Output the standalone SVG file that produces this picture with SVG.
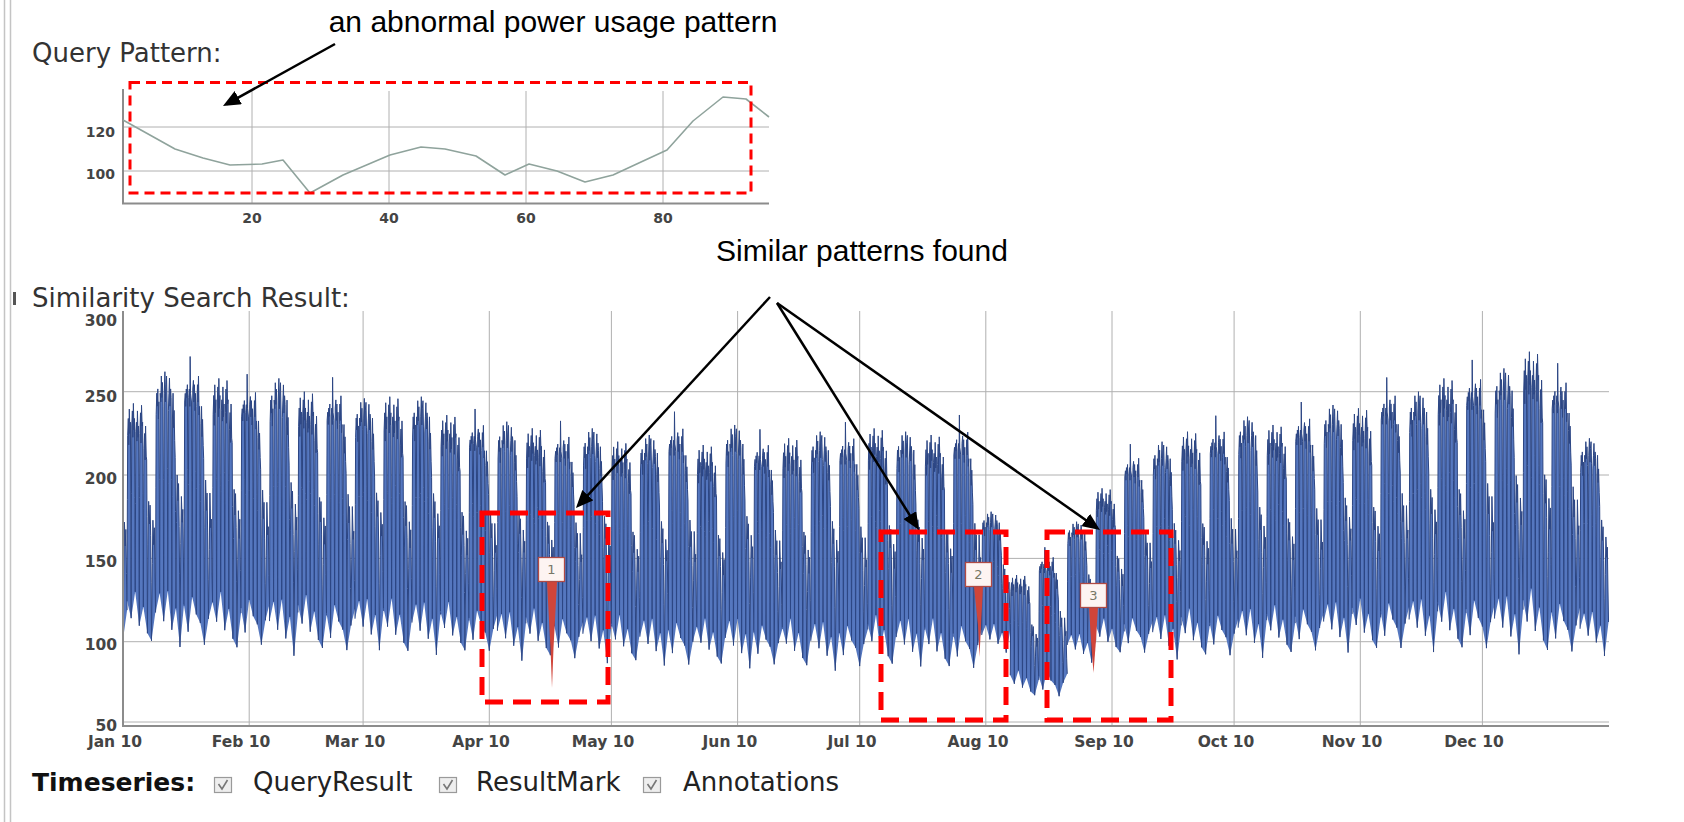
<svg xmlns="http://www.w3.org/2000/svg" xmlns:xlink="http://www.w3.org/1999/xlink" width="1684" height="822" viewBox="0 0 1684 822">
  <style>
    .hdr{font-family:"DejaVu Sans",Verdana,sans-serif;font-size:26px;fill:#333}
    .tick{font-family:"DejaVu Sans",Verdana,sans-serif;font-weight:bold;fill:#444}
    .tickS{font-size:14px}
    .tickL{font-size:15.5px}
    .note{font-family:"Liberation Sans",Arial,sans-serif;font-size:30px;fill:#000}
    .legend{font-family:"DejaVu Sans",Verdana,sans-serif;font-size:26px;fill:#222}
    .grid{stroke:#b0b0b0;stroke-width:1;fill:none}
    .axis{stroke:#8c8c8c;stroke-width:2;fill:none}
    .query{fill:none;stroke:#8fa39c;stroke-width:1.6;stroke-linejoin:round}
    .loadFill{fill:#5577bf;stroke:none}
    .loadLine{fill:none;stroke:#2c4684;stroke-width:1;vector-effect:non-scaling-stroke;stroke-linejoin:round}
    .boxTop{fill:none;stroke:#ff0000;stroke-width:3;stroke-dasharray:10 6}
    .boxBig{fill:none;stroke:#ff0000;stroke-width:5;stroke-dasharray:18 10}
    .arrow{fill:none;stroke:#000;stroke-width:2.5;marker-end:url(#head)}
    .flag{fill:#fdf4f2;stroke:#b04a44;stroke-width:1.3}
    .flagTxt{font-family:"DejaVu Sans",Verdana,sans-serif;font-size:13px;fill:#776;text-anchor:middle}
    .mark{fill:#d0453a}
    .cb{fill:#eeeeee;stroke:#9a9a9a;stroke-width:1.2}
    .tickmark{fill:none;stroke:#777;stroke-width:1.6}
  </style>
  <defs>
    <marker id="head" viewBox="0 0 10 10" refX="7.7" refY="5" markerWidth="7" markerHeight="6" preserveAspectRatio="none" orient="auto">
      <path d="M0,0 L10,5 L0,10 Z" fill="#000"/>
    </marker>
    <clipPath id="plotClip">
      <rect x="123" y="300" width="1486" height="430"/>
    </clipPath>
    <!-- one week of hourly load (Mon..Sun); x in days, y normalised: 0 = night trough, -1 = weekday peak.
         The fill shades each day between its two night troughs, the stroke path carries the full curve. -->
    <g id="wA">
      <path class="loadFill" d="M0,0.05 L0.08,-0.49 0.15,-0.83 0.3,-0.92 0.42,-0.78 0.55,-0.97 0.7,-0.84 0.82,-0.9 0.9,-0.53 1,0.14 Z M1,0.14 L1.08,-0.52 1.15,-0.88 1.3,-0.96 1.42,-0.82 1.55,-1 1.7,-0.86 1.82,-0.92 1.9,-0.5 2,0 Z M2,0 L2.08,-0.47 2.15,-0.85 2.3,-0.9 2.42,-0.8 2.55,-0.96 2.7,-0.82 2.82,-0.88 2.9,-0.56 3,0.18 Z M3,0.18 L3.08,-0.5 3.15,-0.84 3.3,-0.95 3.42,-0.79 3.55,-0.99 3.7,-0.88 3.82,-0.9 3.9,-0.52 4,0.08 Z M4,0.08 L4.08,-0.44 4.15,-0.76 4.3,-0.84 4.42,-0.7 4.55,-0.88 4.7,-0.72 4.82,-0.7 4.9,-0.4 5,0.22 Z M5,0.22 L5.15,-0.25 5.3,-0.48 5.5,-0.36 5.65,-0.46 5.8,-0.3 5.9,-0.05 6,0.26 Z M6,0.26 L6.2,-0.15 6.35,-0.38 6.55,-0.25 6.7,-0.34 6.85,-0.1 7,0.1 Z"/>
      <path class="loadLine" d="M0,0.05 L0.08,-0.49 0.15,-0.83 0.3,-0.92 0.42,-0.78 0.55,-0.97 0.7,-0.84 0.82,-0.9 0.9,-0.53 1,0.14 1.08,-0.52 1.15,-0.88 1.3,-0.96 1.42,-0.82 1.55,-1 1.7,-0.86 1.82,-0.92 1.9,-0.5 2,0 2.08,-0.47 2.15,-0.85 2.3,-0.9 2.42,-0.8 2.55,-0.96 2.7,-0.82 2.82,-0.88 2.9,-0.56 3,0.18 3.08,-0.5 3.15,-0.84 3.3,-0.95 3.42,-0.79 3.55,-0.99 3.7,-0.88 3.82,-0.9 3.9,-0.52 4,0.08 4.08,-0.44 4.15,-0.76 4.3,-0.84 4.42,-0.7 4.55,-0.88 4.7,-0.72 4.82,-0.7 4.9,-0.4 5,0.22 5.15,-0.25 5.3,-0.48 5.5,-0.36 5.65,-0.46 5.8,-0.3 5.9,-0.05 6,0.26 6.2,-0.15 6.35,-0.38 6.55,-0.25 6.7,-0.34 6.85,-0.1 7,0.1"/>
    </g>
    <g id="wB">
      <path class="loadFill" d="M0,0.12 L0.08,-0.46 0.15,-0.8 0.3,-0.9 0.42,-0.84 0.55,-0.92 0.7,-0.78 0.82,-0.86 0.9,-0.5 1,0.03 Z M1,0.03 L1.08,-0.5 1.15,-0.9 1.3,-0.86 1.42,-0.98 1.55,-0.88 1.7,-0.95 1.82,-0.84 1.9,-0.5 2,0.16 Z M2,0.16 L2.08,-0.52 2.15,-0.9 2.3,-1 2.42,-0.86 2.55,-0.94 2.7,-0.98 2.82,-0.85 2.9,-0.55 3,0.02 Z M3,0.02 L3.08,-0.48 3.15,-0.82 3.3,-0.9 3.42,-0.97 3.55,-0.84 3.7,-0.92 3.82,-0.88 3.9,-0.5 4,0.2 Z M4,0.2 L4.08,-0.42 4.15,-0.78 4.3,-0.9 4.42,-0.74 4.55,-0.82 4.7,-0.68 4.82,-0.6 4.9,-0.35 5,0.1 Z M5,0.1 L5.15,-0.3 5.3,-0.52 5.5,-0.4 5.65,-0.48 5.8,-0.28 5.9,-0.06 6,0.28 Z M6,0.28 L6.2,-0.2 6.35,-0.42 6.55,-0.3 6.7,-0.36 6.85,-0.12 7,0.08 Z"/>
      <path class="loadLine" d="M0,0.12 L0.08,-0.46 0.15,-0.8 0.3,-0.9 0.42,-0.84 0.55,-0.92 0.7,-0.78 0.82,-0.86 0.9,-0.5 1,0.03 1.08,-0.5 1.15,-0.9 1.3,-0.86 1.42,-0.98 1.55,-0.88 1.7,-0.95 1.82,-0.84 1.9,-0.5 2,0.16 2.08,-0.52 2.15,-0.9 2.3,-1 2.42,-0.86 2.55,-0.94 2.7,-0.98 2.82,-0.85 2.9,-0.55 3,0.02 3.08,-0.48 3.15,-0.82 3.3,-0.9 3.42,-0.97 3.55,-0.84 3.7,-0.92 3.82,-0.88 3.9,-0.5 4,0.2 4.08,-0.42 4.15,-0.78 4.3,-0.9 4.42,-0.74 4.55,-0.82 4.7,-0.68 4.82,-0.6 4.9,-0.35 5,0.1 5.15,-0.3 5.3,-0.52 5.5,-0.4 5.65,-0.48 5.8,-0.28 5.9,-0.06 6,0.28 6.2,-0.2 6.35,-0.42 6.55,-0.3 6.7,-0.36 6.85,-0.12 7,0.08"/>
    </g>
    <g id="wC">
      <path class="loadFill" d="M0,0.08 L0.08,-0.5 0.15,-0.86 0.3,-0.9 0.42,-0.84 0.55,-0.92 0.7,-0.88 0.82,-0.94 0.9,-0.55 1,0.2 Z M1,0.2 L1.08,-0.48 1.15,-0.88 1.3,-0.92 1.42,-0.84 1.5,-1.07 1.6,-0.9 1.82,-0.86 1.9,-0.5 2,0.04 Z M2,0.04 L2.08,-0.5 2.15,-0.92 2.3,-0.96 2.42,-0.86 2.55,-0.94 2.7,-0.82 2.82,-0.9 2.9,-0.54 3,0.12 Z M3,0.12 L3.08,-0.46 3.15,-0.84 3.3,-0.94 3.42,-0.86 3.55,-0.98 3.7,-0.8 3.82,-0.84 3.9,-0.48 4,0.16 Z M4,0.16 L4.08,-0.4 4.15,-0.76 4.3,-0.84 4.42,-0.7 4.55,-0.78 4.7,-0.66 4.82,-0.6 4.9,-0.36 5,0.26 Z M5,0.26 L5.15,-0.28 5.3,-0.5 5.5,-0.36 5.65,-0.44 5.8,-0.26 5.9,-0.04 6,0.14 Z M6,0.14 L6.2,-0.18 6.35,-0.44 6.55,-0.28 6.7,-0.32 6.85,-0.08 7,0.06 Z"/>
      <path class="loadLine" d="M0,0.08 L0.08,-0.5 0.15,-0.86 0.3,-0.9 0.42,-0.84 0.55,-0.92 0.7,-0.88 0.82,-0.94 0.9,-0.55 1,0.2 1.08,-0.48 1.15,-0.88 1.3,-0.92 1.42,-0.84 1.5,-1.07 1.6,-0.9 1.82,-0.86 1.9,-0.5 2,0.04 2.08,-0.5 2.15,-0.92 2.3,-0.96 2.42,-0.86 2.55,-0.94 2.7,-0.82 2.82,-0.9 2.9,-0.54 3,0.12 3.08,-0.46 3.15,-0.84 3.3,-0.94 3.42,-0.86 3.55,-0.98 3.7,-0.8 3.82,-0.84 3.9,-0.48 4,0.16 4.08,-0.4 4.15,-0.76 4.3,-0.84 4.42,-0.7 4.55,-0.78 4.7,-0.66 4.82,-0.6 4.9,-0.36 5,0.26 5.15,-0.28 5.3,-0.5 5.5,-0.36 5.65,-0.44 5.8,-0.26 5.9,-0.04 6,0.14 6.2,-0.18 6.35,-0.44 6.55,-0.28 6.7,-0.32 6.85,-0.08 7,0.06"/>
    </g>
  </defs>

  <rect width="1684" height="822" fill="#ffffff"/>

  <!-- window frame on the left -->
  <g id="frame">
    <line x1="4.5" y1="0" x2="4.5" y2="822" stroke="#c4c4c4" stroke-width="1.5"/>
    <line x1="10.5" y1="0" x2="10.5" y2="822" stroke="#c4c4c4" stroke-width="1.5"/>
    <rect x="13" y="292" width="3" height="13" fill="#555"/>
  </g>

  <!-- query pattern chart -->
  <g id="query-chart">
    <text class="hdr" x="32" y="62">Query Pattern:</text>
    <line class="grid" x1="123" y1="127" x2="769" y2="127"/>
    <line class="grid" x1="123" y1="171" x2="769" y2="171"/>
    <line class="grid" x1="252" y1="91" x2="252" y2="203"/>
    <line class="grid" x1="389" y1="91" x2="389" y2="203"/>
    <line class="grid" x1="526" y1="91" x2="526" y2="203"/>
    <line class="grid" x1="663" y1="91" x2="663" y2="203"/>
    <line class="axis" x1="123" y1="89" x2="123" y2="204"/>
    <line class="axis" x1="122" y1="203.5" x2="769" y2="203.5"/>
    <g class="tick tickS">
      <text x="115" y="137" text-anchor="end">120</text>
      <text x="115" y="179" text-anchor="end">100</text>
      <text x="252" y="223" text-anchor="middle">20</text>
      <text x="389" y="223" text-anchor="middle">40</text>
      <text x="526" y="223" text-anchor="middle">60</text>
      <text x="663" y="223" text-anchor="middle">80</text>
    </g>
    <polyline class="query" points="123,120 175,149 203,158 230,165 262,164 283,160 310,193 343,175 390,155 421,147 445,149 476,156 505,175 529,164 557,171 585,182 613,175 641,162 667,150 693,121 723,97 746,99 769,117"/>
    <rect id="query-box" class="boxTop" x="130" y="82.5" width="621" height="110.5"/>
  </g>

  <!-- similarity search result chart -->
  <g id="result-chart">
    <text class="hdr" x="32" y="307">Similarity Search Result:</text>
    <g id="grid">
      <line class="grid" x1="123" y1="391.7" x2="1609" y2="391.7"/>
      <line class="grid" x1="123" y1="475" x2="1609" y2="475"/>
      <line class="grid" x1="123" y1="558.4" x2="1609" y2="558.4"/>
      <line class="grid" x1="123" y1="641.7" x2="1609" y2="641.7"/>
      <line class="grid" x1="123" y1="722" x2="1609" y2="722"/>
      <line class="grid" x1="249.2" y1="311" x2="249.2" y2="725"/>
      <line class="grid" x1="363.1" y1="311" x2="363.1" y2="725"/>
      <line class="grid" x1="489.3" y1="311" x2="489.3" y2="725"/>
      <line class="grid" x1="611.4" y1="311" x2="611.4" y2="725"/>
      <line class="grid" x1="737.6" y1="311" x2="737.6" y2="725"/>
      <line class="grid" x1="859.7" y1="311" x2="859.7" y2="725"/>
      <line class="grid" x1="985.8" y1="311" x2="985.8" y2="725"/>
      <line class="grid" x1="1112" y1="311" x2="1112" y2="725"/>
      <line class="grid" x1="1234.1" y1="311" x2="1234.1" y2="725"/>
      <line class="grid" x1="1360.3" y1="311" x2="1360.3" y2="725"/>
      <line class="grid" x1="1482.4" y1="311" x2="1482.4" y2="725"/>
    </g>

    <!-- hourly load, one <use> per week; translate = (Monday x, trough y), scale = (px per day, peak-trough px) -->
    <g id="series" clip-path="url(#plotClip)">
      <use href="#wA" transform="translate(98.58,591.8) scale(4.07,183.4)"/>
      <use href="#wA" transform="translate(127.07,591.8) scale(4.07,188.4)"/>
      <use href="#wB" transform="translate(155.56,586.8) scale(4.07,215.1)"/>
      <use href="#wC" transform="translate(184.05,588.4) scale(4.07,216.7)"/>
      <use href="#wA" transform="translate(212.54,591.8) scale(4.07,213.4)"/>
      <use href="#wC" transform="translate(241.03,591.8) scale(4.07,203.4)"/>
      <use href="#wB" transform="translate(269.52,595.1) scale(4.07,216.7)"/>
      <use href="#wA" transform="translate(298.01,595.1) scale(4.07,203.4)"/>
      <use href="#wC" transform="translate(326.5,596.8) scale(4.07,205.1)"/>
      <use href="#wB" transform="translate(354.99,595.1) scale(4.07,196.7)"/>
      <use href="#wA" transform="translate(383.48,598.4) scale(4.07,201.7)"/>
      <use href="#wB" transform="translate(411.97,598.4) scale(4.07,201.7)"/>
      <use href="#wA" transform="translate(440.46,601.8) scale(4.07,186.7)"/>
      <use href="#wC" transform="translate(468.95,603.4) scale(4.07,181.7)"/>
      <use href="#wB" transform="translate(497.44,608.4) scale(4.07,186.7)"/>
      <use href="#wA" transform="translate(525.93,608.4) scale(4.07,180.1)"/>
      <use href="#wC" transform="translate(554.42,611.8) scale(4.07,178.4)"/>
      <use href="#wB" transform="translate(582.91,611.8) scale(4.07,183.4)"/>
      <use href="#wA" transform="translate(611.4,615.1) scale(4.07,173.4)"/>
      <use href="#wB" transform="translate(639.89,615.1) scale(4.07,180.1)"/>
      <use href="#wC" transform="translate(668.38,615.1) scale(4.07,190.1)"/>
      <use href="#wA" transform="translate(696.87,618.4) scale(4.07,173.4)"/>
      <use href="#wB" transform="translate(725.36,615.1) scale(4.07,190.1)"/>
      <use href="#wC" transform="translate(753.85,618.4) scale(4.07,176.7)"/>
      <use href="#wA" transform="translate(782.34,618.4) scale(4.07,180.1)"/>
      <use href="#wB" transform="translate(810.83,618.4) scale(4.07,186.7)"/>
      <use href="#wC" transform="translate(839.32,618.4) scale(4.07,183.4)"/>
      <use href="#wA" transform="translate(867.81,615.1) scale(4.07,186.7)"/>
      <use href="#wB" transform="translate(896.3,615.1) scale(4.07,183.4)"/>
      <use href="#wA" transform="translate(924.79,618.4) scale(4.07,183.4)"/>
      <use href="#wC" transform="translate(953.28,618.4) scale(4.07,190.1)"/>
      <use href="#wB" transform="translate(981.77,621.8) scale(4.07,110.1)"/>
      <use href="#wA" transform="translate(1010.26,670.4) scale(4.07,95.4)"/>
      <use href="#wC" transform="translate(1038.75,667.1) scale(4.07,112)"/>
      <use href="#wB" transform="translate(1067.24,631.8) scale(4.07,110.1)"/>
      <use href="#wA" transform="translate(1095.73,618.4) scale(4.07,130.1)"/>
      <use href="#wC" transform="translate(1124.22,611.8) scale(4.07,156.7)"/>
      <use href="#wB" transform="translate(1152.71,611.8) scale(4.07,170.1)"/>
      <use href="#wA" transform="translate(1181.2,608.4) scale(4.07,176.7)"/>
      <use href="#wC" transform="translate(1209.69,608.4) scale(4.07,180.1)"/>
      <use href="#wB" transform="translate(1238.18,605.1) scale(4.07,188.4)"/>
      <use href="#wA" transform="translate(1266.67,605.1) scale(4.07,180.1)"/>
      <use href="#wC" transform="translate(1295.16,601.8) scale(4.07,186.7)"/>
      <use href="#wB" transform="translate(1323.65,598.4) scale(4.07,193.4)"/>
      <use href="#wA" transform="translate(1352.14,598.4) scale(4.07,190.1)"/>
      <use href="#wC" transform="translate(1380.63,595.1) scale(4.07,203.4)"/>
      <use href="#wB" transform="translate(1409.12,595.1) scale(4.07,203.4)"/>
      <use href="#wA" transform="translate(1437.61,591.8) scale(4.07,213.4)"/>
      <use href="#wC" transform="translate(1466.1,591.8) scale(4.07,216.7)"/>
      <use href="#wB" transform="translate(1494.59,591.8) scale(4.07,223.4)"/>
      <use href="#wA" transform="translate(1523.08,588.4) scale(4.07,236.7)"/>
      <use href="#wC" transform="translate(1551.57,595.1) scale(4.07,216.7)"/>
      <use href="#wB" transform="translate(1580.06,608.4) scale(4.07,170.1)"/>
    </g>

    <line class="axis" x1="123" y1="311" x2="123" y2="727"/>
    <line class="axis" x1="122" y1="726" x2="1609" y2="726"/>
    <g class="tick tickL">
      <text x="117" y="325.5" text-anchor="end">300</text>
      <text x="117" y="401.5" text-anchor="end">250</text>
      <text x="117" y="483.5" text-anchor="end">200</text>
      <text x="117" y="567" text-anchor="end">150</text>
      <text x="117" y="650" text-anchor="end">100</text>
      <text x="117" y="730.5" text-anchor="end">50</text>
    </g>
    <g class="tick tickL" text-anchor="middle">
      <text x="115" y="746.5">Jan 10</text>
      <text x="241" y="746.5">Feb 10</text>
      <text x="355" y="746.5">Mar 10</text>
      <text x="481" y="746.5">Apr 10</text>
      <text x="603" y="746.5">May 10</text>
      <text x="730" y="746.5">Jun 10</text>
      <text x="852" y="746.5">Jul 10</text>
      <text x="978" y="746.5">Aug 10</text>
      <text x="1104" y="746.5">Sep 10</text>
      <text x="1226" y="746.5">Oct 10</text>
      <text x="1352" y="746.5">Nov 10</text>
      <text x="1474" y="746.5">Dec 10</text>
    </g>

    <!-- matched segments (ResultMark) and their numbered flags -->
    <g id="result-1">
      <path class="mark" d="M547,582 L557,582 L555,620 L553.5,648 L552,688 L550.5,648 L549,620 Z"/>
      <rect class="flag" x="538.5" y="557.5" width="26" height="24"/>
      <text class="flagTxt" x="551.5" y="574">1</text>
    </g>
    <g id="result-2">
      <path class="mark" d="M974,587 L983,587 L981,625 L979.5,657 L978,625 Z"/>
      <rect class="flag" x="965.5" y="562.5" width="26" height="24"/>
      <text class="flagTxt" x="978.5" y="579">2</text>
    </g>
    <g id="result-3">
      <path class="mark" d="M1089,607 L1098,607 L1096,640 L1093.5,673 L1091,640 Z"/>
      <rect class="flag" x="1080.5" y="583.5" width="26" height="24"/>
      <text class="flagTxt" x="1093.5" y="600">3</text>
    </g>

    <rect id="match-box-1" class="boxBig" x="482" y="513" width="126" height="189"/>
    <rect id="match-box-2" class="boxBig" x="881" y="532" width="125" height="188"/>
    <rect id="match-box-3" class="boxBig" x="1047" y="532" width="124" height="188"/>
  </g>

  <!-- legend -->
  <g id="legend">
    <text x="32" y="791" font-family="'DejaVu Sans',Verdana,sans-serif" font-weight="bold" font-size="25" fill="#111">Timeseries:</text>
    <rect class="cb" x="214.5" y="777.5" width="17" height="15"/>
    <polyline class="tickmark" points="218.5,784 222,789 227.5,780"/>
    <text class="legend" x="253" y="791">QueryResult</text>
    <rect class="cb" x="439.5" y="777.5" width="17" height="15"/>
    <polyline class="tickmark" points="443.5,784 447,789 452.5,780"/>
    <text class="legend" x="476" y="791">ResultMark</text>
    <rect class="cb" x="643.5" y="777.5" width="17" height="15"/>
    <polyline class="tickmark" points="647.5,784 651,789 656.5,780"/>
    <text class="legend" x="683" y="791">Annotations</text>
  </g>

  <!-- callout labels -->
  <g id="label-abnormal">
    <text class="note" x="553" y="32" text-anchor="middle">an abnormal power usage pattern</text>
  </g>
  <g id="label-similar">
    <text class="note" x="862" y="261" text-anchor="middle">Similar patterns found</text>
  </g>

  <!-- callout arrows -->
  <g id="connectors">
    <line class="arrow" x1="335" y1="44" x2="226.5" y2="104.1"/>
    <line class="arrow" x1="770" y1="297" x2="578.7" y2="505.1"/>
    <line class="arrow" x1="777" y1="303" x2="916.9" y2="526.6"/>
    <line class="arrow" x1="777" y1="303" x2="1096.7" y2="527.7"/>
  </g>
</svg>
